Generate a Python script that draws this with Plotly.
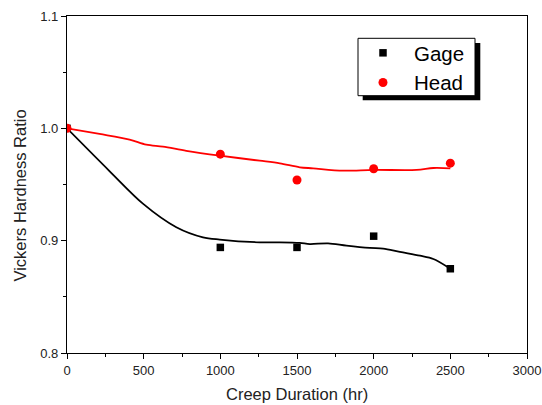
import plotly.graph_objects as go

# Measured hardness ratios
duration = [0, 1000, 1500, 2000, 2500]
gage_ratio = [1.0, 0.894, 0.894, 0.904, 0.875]
head_ratio = [1.0, 0.977, 0.954, 0.964, 0.969]

# Smoothed trend curves
gage_fit_x = [0, 277, 495, 713, 887, 996, 1257, 1388, 1518, 1584, 1703, 1823, 1975, 2062, 2171, 2302, 2389, 2487, 2500]
gage_fit_y = [1.0, 0.962, 0.933, 0.912, 0.903, 0.901, 0.8985, 0.8985, 0.898, 0.897, 0.8976, 0.8955, 0.8935, 0.893, 0.890, 0.8866, 0.8837, 0.8762, 0.875]
head_fit_x = [0, 212, 408, 517, 626, 778, 996, 1257, 1388, 1518, 1605, 1801, 1997, 2280, 2389, 2500]
head_fit_y = [1.0, 0.995, 0.990, 0.9855, 0.9837, 0.980, 0.9757, 0.9712, 0.9688, 0.9653, 0.9644, 0.9623, 0.963, 0.963, 0.9647, 0.9644]

x_ticks = [0, 500, 1000, 1500, 2000, 2500, 3000]
y_ticks = [0.8, 0.9, 1.0, 1.1]

FONT = "Liberation Sans, Arial, sans-serif"

# Figure geometry (pixels)
W, H = 542, 405
ML, MR, MT, MB = 67, 15, 16, 52
PW, PH = W - ML - MR, H - MT - MB


def px_x(p):
    return (p - ML) / PW


def px_y(p):
    return (H - MB - p) / PH


fig = go.Figure()

fig.add_trace(go.Scatter(x=gage_fit_x, y=gage_fit_y, mode="lines",
                         line=dict(color="black", width=1.8, shape="spline", smoothing=0.9),
                         showlegend=False, hoverinfo="skip"))
fig.add_trace(go.Scatter(x=head_fit_x, y=head_fit_y, mode="lines",
                         line=dict(color="#ff0000", width=1.8, shape="spline", smoothing=0.9),
                         showlegend=False, hoverinfo="skip"))
fig.add_trace(go.Scatter(x=duration, y=gage_ratio, mode="markers", name="Gage",
                         marker=dict(symbol="square", size=7.5, color="black")))
fig.add_trace(go.Scatter(x=duration, y=head_ratio, mode="markers", name="Head",
                         marker=dict(symbol="circle", size=9, color="#ff0000")))

axis_common = dict(showline=True, linecolor="black", linewidth=1.3, mirror=True,
                   showgrid=False, zeroline=False, ticks="outside", ticklen=5,
                   tickwidth=1, tickcolor="black", automargin=False,
                   tickfont=dict(family=FONT, size=13, color="#222"))

fig.update_xaxes(range=[0, 3000], tickvals=x_ticks,
                 minor=dict(dtick=250, ticks="outside", ticklen=3, tickcolor="black", showgrid=False),
                 **axis_common)
fig.update_yaxes(range=[0.8, 1.1], tickvals=y_ticks, tickformat=".1f",
                 minor=dict(dtick=0.05, ticks="outside", ticklen=3, tickcolor="black", showgrid=False),
                 **axis_common)

fig.add_annotation(text="Creep Duration (hr)", xref="paper", yref="paper",
                   x=0.5, y=0, yshift=-41, showarrow=False, yanchor="middle",
                   font=dict(family=FONT, size=16.5, color="#222"))
fig.add_annotation(text="Vickers Hardness Ratio", xref="paper", yref="paper",
                   x=0, y=0.5, xshift=-48, yshift=-11, textangle=-90, showarrow=False,
                   xanchor="center", yanchor="middle",
                   font=dict(family=FONT, size=16.5, color="#222"))

# Legend frame with drop shadow
fig.add_shape(type="rect", xref="paper", yref="paper",
              x0=px_x(362.7), x1=px_x(480.3), y0=px_y(100.3), y1=px_y(43),
              fillcolor="black", line=dict(width=0), layer="below")
fig.add_shape(type="rect", xref="paper", yref="paper",
              x0=px_x(358), x1=px_x(475), y0=px_y(95.7), y1=px_y(38.3),
              fillcolor="white", line=dict(color="black", width=1), layer="below")

fig.update_layout(
    width=W, height=H,
    margin=dict(l=ML, r=MR, t=MT, b=MB),
    plot_bgcolor="white", paper_bgcolor="white",
    font=dict(family=FONT, color="#222"),
    legend=dict(x=px_x(352), y=px_y(33),
                xanchor="left", yanchor="top",
                bgcolor="rgba(0,0,0,0)", borderwidth=0,
                font=dict(family=FONT, size=20.5, color="black"),
                itemwidth=52, tracegroupgap=0),
)

fig.write_html("out.html")
